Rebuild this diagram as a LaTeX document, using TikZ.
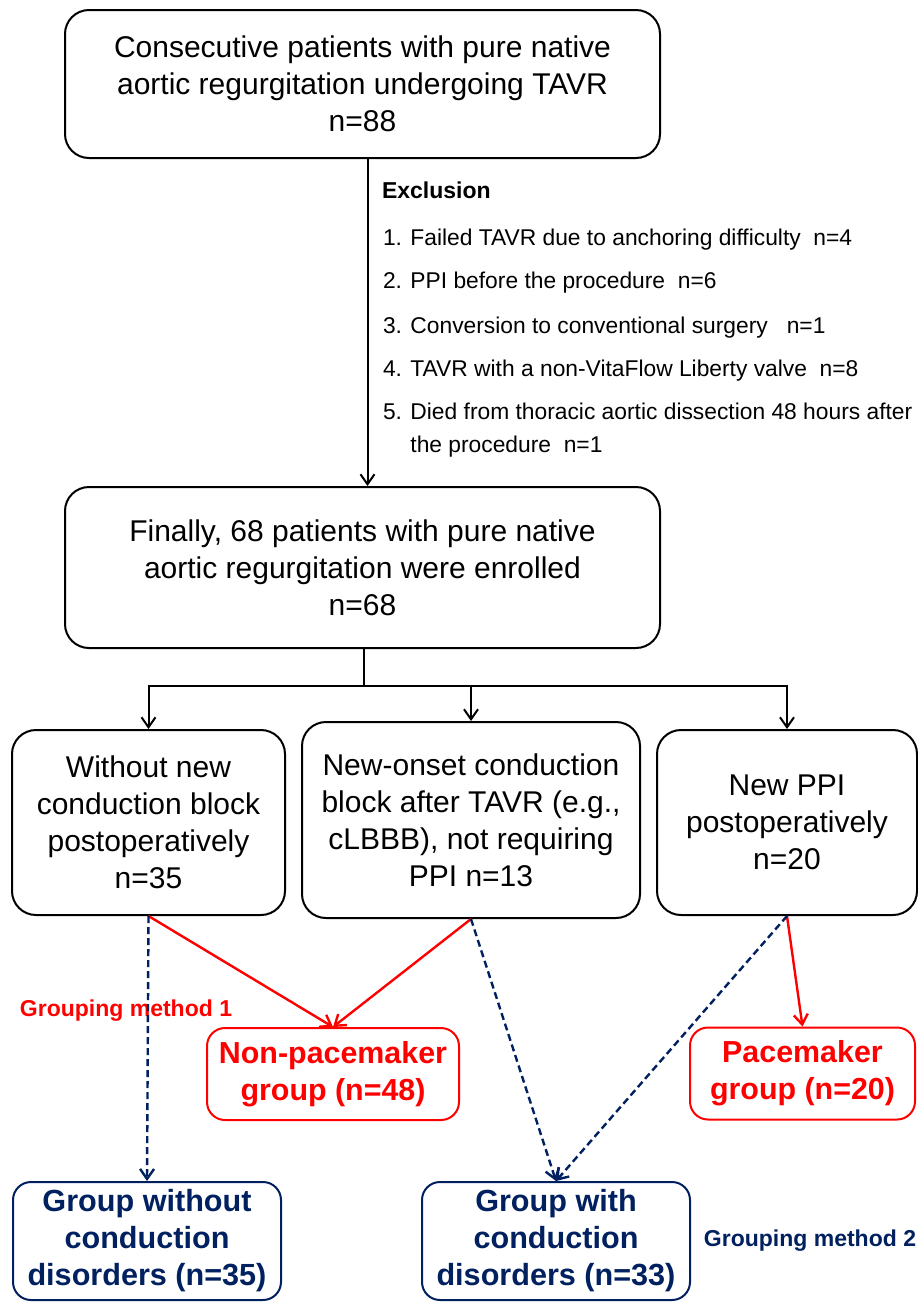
\documentclass[tikz,border=0pt]{standalone}
\usepackage{fontspec}
\setmainfont{Liberation Sans}
\usetikzlibrary{shapes,arrows.meta}
\definecolor{navy}{RGB}{0,32,96}

\begin{document}
\begin{tikzpicture}[x=0.5pt,y=-0.5pt,line width=1pt,>={Straight Barb[length=5pt,width=7pt]}]
\tikzstyle{box} = [rectangle, draw, rounded corners=12pt, align=center, inner sep=0pt, font=\fontsize{15}{18.5}\selectfont]
\tikzstyle{redbox} = [rectangle, draw=red, text=red, rounded corners=9pt, align=center, inner sep=0pt, minimum height=46pt, font=\fontsize{15.2}{18.5}\selectfont\bfseries]
\tikzstyle{bluebox} = [rectangle, draw=navy, text=navy, rounded corners=9pt, align=center, inner sep=0pt, minimum width=134pt, minimum height=59pt, font=\fontsize{15.3}{18.5}\selectfont\bfseries]
\tikzstyle{excl} = [anchor=base west, inner sep=0pt, font=\fontsize{11.4}{12}\selectfont]
\tikzstyle{method} = [inner sep=0pt, font=\fontsize{11.5}{12}\selectfont\bfseries]
\tikzstyle{redline} = [->, draw=red, line width=1.2pt]
\tikzstyle{blueline} = [->, draw=navy, line width=1.2pt, dash pattern=on 3.5pt off 2pt]
\useasboundingbox (0,0) rectangle (917,1302);

\node[box, minimum width=297.5pt, minimum height=74pt] (cons) at (362.5,84) {Consecutive patients with pure native\\aortic regurgitation undergoing TAVR\\n=88};
\node[box, minimum width=297.5pt, minimum height=80.5pt] (enr) at (362.5,567.5) {Finally, 68 patients with pure native\\aortic regurgitation were enrolled\\n=68};

% exclusion list
\node[excl, font=\fontsize{11.5}{12}\selectfont\bfseries] (exhead) at (381,198) {Exclusion};
\foreach \yy/\t [count=\i] in {245/{1. Failed TAVR due to anchoring difficulty~~n=4},
  288/{2. PPI before the procedure~~n=6},
  333/{3. Conversion to conventional surgery~~~n=1},
  376/{4. TAVR with a non-VitaFlow Liberty valve~~n=8},
  419/{5. Died from thoracic aortic dissection 48 hours after},
  452/{\phantom{5. }the procedure~~n=1}}
  \node[excl] (ex\i) at (382,\yy) {\t};

\node[box, minimum width=136.5pt, minimum height=92.5pt] (wo) at (148.5,822.5) {Without new\\conduction block\\postoperatively\\n=35};
\node[box, minimum width=169pt, minimum height=98pt] (nc) at (471,820) {New-onset conduction\\block after TAVR (e.g.,\\cLBBB), not requiring\\PPI n=13};
\node[box, minimum width=130pt, minimum height=92.5pt] (pp) at (787,822.5) {New PPI\\postoperatively\\n=20};

\node[redbox, minimum width=126pt] (npm) at (333,1074) {Non-pacemaker\\group (n=48)};
\node[redbox, minimum width=112.5pt] (pm) at (802.5,1073.5) {Pacemaker\\group (n=20)};
\node[bluebox] (gwo) at (147,1241) {Group without\\conduction\\disorders (n=35)};
\node[bluebox] (gw) at (556,1241) {Group with\\conduction\\disorders (n=33)};

\node[method, text=red] (gm1) at (126,1011) {Grouping method 1};
\node[method, text=navy] (gm2) at (810,1241) {Grouping method 2};

\coordinate (split) at (364,686);
\draw[->] ([xshift=2.5pt]cons.south) -- ([xshift=2.5pt]enr.north);
\draw ([xshift=0.75pt]enr.south) -- (split);
\draw[->] (split) -| (wo.north);
\draw[->] (split) -| (nc.north);
\draw[->] (split) -| (pp.north);

\draw[redline] (wo.south) -- (npm.north);
\draw[redline] (nc.south) -- (npm.north);
\draw[redline] (pp.south) -- (pm.north);
\draw[blueline] (wo.south) -- (gwo.north);
\draw[blueline] (nc.south) -- (gw.north);
\draw[blueline] (pp.south) -- (gw.north);
\end{tikzpicture}
\end{document}
